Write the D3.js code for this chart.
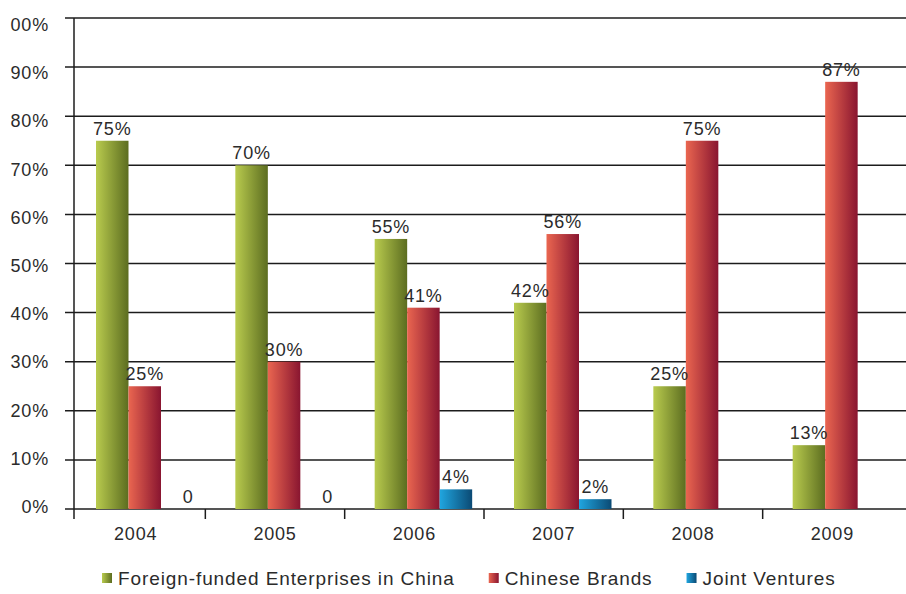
<!DOCTYPE html>
<html>
<head>
<meta charset="utf-8">
<script src="https://cdn.jsdelivr.net/npm/d3@7"></script>
<style>
  body { margin: 0; background: #fff; }
  text { font-family: "Liberation Sans", Arial, sans-serif; fill: #2b2b2b; }
</style>
</head>
<body>
<div class="chart"></div>
<script>
const years = ["2004", "2005", "2006", "2007", "2008", "2009"];
const seriesNames = ["Foreign-funded Enterprises in China", "Chinese Brands", "Joint Ventures"];
const foreignVals = [75, 70, 55, 42, 25, 13];
const chineseVals = [25, 30, 41, 56, 75, 87];
const jointVals = [0, 0, 4, 2, null, null]; // no bar and no label for 2008/2009
const yTickVals = [0, 10, 20, 30, 40, 50, 60, 70, 80, 90, 100];
const yTickLabels = ["0%", "10%", "20%", "30%", "40%", "50%", "60%", "70%", "80%", "90%", "00%"];

const width = 906;
const height = 594;
const axisX = 74;
const baseY = 509;
const topY = 18;
const barW = 32.5;

// colours: light left edge to dark right edge, like the reference bars
const gradColors = [
  ["#b9cb4e", "#5c6d20"],
  ["#ea6650", "#891530"],
  ["#20a6e0", "#0b4a74"]
];

const svg = d3.select(".chart")
    .append("svg")
    .attr("width", width)
    .attr("height", height);

const defs = svg.append("defs");
gradColors.forEach(function(c, i) {
  const g = defs.append("linearGradient")
      .attr("id", "grad" + i)
      .attr("x1", "0%").attr("x2", "100%")
      .attr("y1", "0%").attr("y2", "0%");
  g.append("stop").attr("offset", "0%").attr("stop-color", c[0]);
  g.append("stop").attr("offset", "100%").attr("stop-color", c[1]);
});

const y = d3.scaleLinear().domain([0, 100]).range([baseY, topY]);
// tick labels sit a little lower than the grid lines in the reference
const yLab = d3.scaleLinear().domain([0, 100]).range([513, 31]);

const x0 = d3.scaleBand().domain(years).range([axisX, 910]);
const xAxisBand = d3.scaleBand().domain(years).range([axisX - 8, 902]);
const x1 = d3.scaleBand().domain(seriesNames).range([22, 22 + 3 * barW]);

// grid lines
svg.append("g")
  .selectAll("line")
  .data(yTickVals)
  .enter()
  .append("line")
  .attr("x1", axisX - 9)
  .attr("x2", width)
  .attr("y1", d => y(d))
  .attr("y2", d => y(d))
  .style("stroke", "#1c1c1c")
  .style("stroke-width", 1.5);

// y axis line, goes a bit below the baseline
svg.append("line")
  .attr("x1", axisX).attr("x2", axisX)
  .attr("y1", topY).attr("y2", baseY + 10)
  .style("stroke", "#1c1c1c")
  .style("stroke-width", 1.5);

// category ticks
svg.append("g")
  .selectAll("line")
  .data(years.slice(1))
  .enter()
  .append("line")
  .attr("x1", d => xAxisBand(d))
  .attr("x2", d => xAxisBand(d))
  .attr("y1", baseY)
  .attr("y2", baseY + 10)
  .style("stroke", "#1c1c1c")
  .style("stroke-width", 1.5);

svg.append("g")
  .selectAll("text")
  .data(yTickVals)
  .enter()
  .append("text")
  .attr("x", 49)
  .attr("y", d => yLab(d))
  .attr("text-anchor", "end")
  .style("font-size", "18px")
  .style("letter-spacing", "0.8px")
  .text((d, i) => yTickLabels[i]);

svg.append("g")
  .selectAll("text")
  .data(years)
  .enter()
  .append("text")
  .attr("x", d => xAxisBand(d) + xAxisBand.bandwidth() / 2)
  .attr("y", 540)
  .attr("text-anchor", "middle")
  .style("font-size", "18px")
  .style("letter-spacing", "0.8px")
  .text(d => d);

const allVals = [foreignVals, chineseVals, jointVals];
const barData = [];
years.forEach(function(yr, i) {
  seriesNames.forEach(function(s, j) {
    barData.push({ year: yr, series: s, idx: j, value: allVals[j][i] });
  });
});

const groups = svg.append("g");

groups.selectAll("rect")
  .data(barData.filter(d => d.value))
  .enter()
  .append("rect")
  .attr("x", d => x0(d.year) + x1(d.series))
  .attr("width", x1.bandwidth())
  .attr("y", d => y(d.value))
  .attr("height", d => baseY - y(d.value))
  .style("fill", d => "url(#grad" + d.idx + ")");

groups.selectAll("text")
  .data(barData.filter(d => d.value !== null))
  .enter()
  .append("text")
  .attr("x", d => x0(d.year) + x1(d.series) + x1.bandwidth() / 2 + (d.value === 0 ? 11 : 0))
  .attr("y", d => y(d.value) - 6)
  .attr("text-anchor", "middle")
  .style("font-size", "18px")
  .style("letter-spacing", "0.8px")
  .text(d => d.value === 0 ? "0" : d.value + "%");

// legend
const legend = svg.append("g").attr("transform", "translate(102,573)");
let lx = 0;
seriesNames.forEach(function(s, i) {
  const item = legend.append("g").attr("transform", "translate(" + lx + ",0)");
  item.append("rect")
    .attr("width", 10)
    .attr("height", 10)
    .style("fill", "url(#grad" + i + ")");
  const t = item.append("text")
    .attr("x", 16)
    .attr("y", 12)
    .style("font-size", "19px")
    .style("letter-spacing", "0.9px")
    .text(s);
  lx += 16 + t.node().getComputedTextLength() + 34;
});
</script>
</body>
</html>
